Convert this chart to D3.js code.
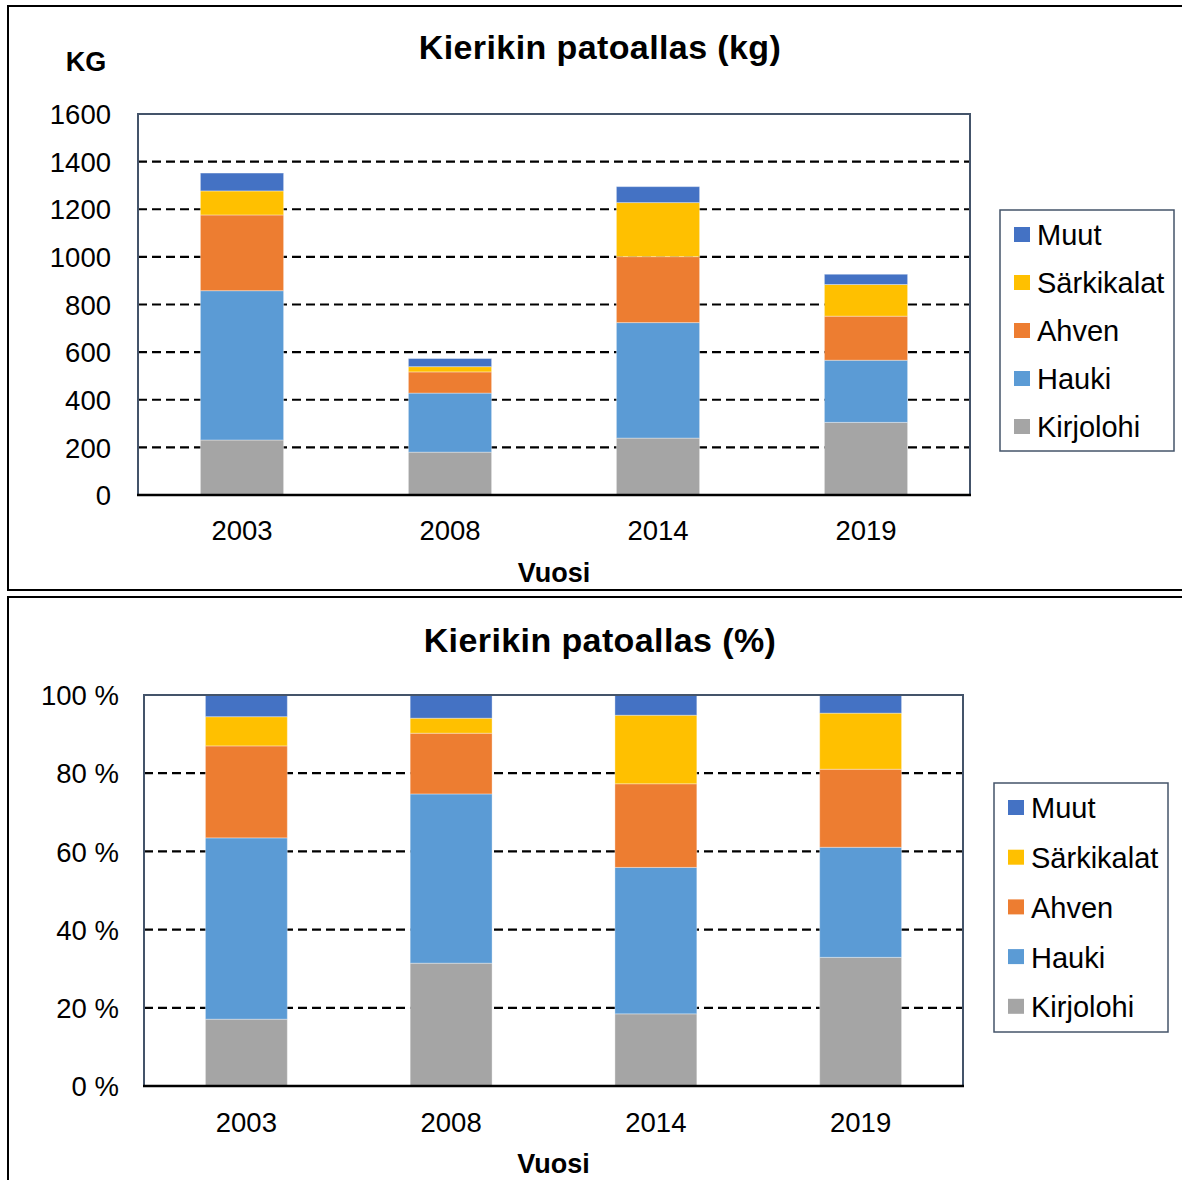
<!DOCTYPE html>
<html>
<head>
<meta charset="utf-8">
<script src="https://cdn.jsdelivr.net/npm/d3@7"></script>
<style>
  body { margin: 0; background: #fff; }
  text { font-family: "Liberation Sans", Arial, sans-serif; fill: #000; }
</style>
</head>
<body>
<div id="viz"></div>
<script>
// data (kg)
var years = ["2003", "2008", "2014", "2019"];
var species = ["Kirjolohi", "Hauki", "Ahven", "Särkikalat", "Muut"];
var kirjolohi = [231, 180, 239, 305];
var hauki = [627, 248, 485, 261];
var ahven = [318, 89, 277, 185];
var sarkikalat = [101, 22, 227, 133];
var muut = [75, 34, 67, 43];
var kgTicks = [0, 200, 400, 600, 800, 1000, 1200, 1400, 1600];
var pctTicks = [0, 0.2, 0.4, 0.6, 0.8, 1];

var color = {
  "Kirjolohi": "#a5a5a5",
  "Hauki": "#5b9bd5",
  "Ahven": "#ed7d31",
  "Särkikalat": "#ffc000",
  "Muut": "#4472c4"
};

var rows = years.map(function(y, i) {
  return {
    year: y,
    "Kirjolohi": kirjolohi[i],
    "Hauki": hauki[i],
    "Ahven": ahven[i],
    "Särkikalat": sarkikalat[i],
    "Muut": muut[i]
  };
});

var width = 1182, height = 1180;
var svg = d3.select("#viz").append("svg").attr("width", width).attr("height", height);

// outer frames
svg.append("rect").attr("x", 8).attr("y", 6).attr("width", 1190).attr("height", 584)
    .attr("fill", "none").attr("stroke", "#000").attr("stroke-width", 2);
svg.append("rect").attr("x", 8).attr("y", 597).attr("width", 1190).attr("height", 600)
    .attr("fill", "none").attr("stroke", "#000").attr("stroke-width", 2);

drawChart({
  x0: 138, x1: 970, y0: 114, y1: 495,
  title: "Kierikin patoallas (kg)", titleY: 59,
  domain: [0, 1600], ticks: kgTicks, fmt: function(d) { return d; },
  tickPad: 27, offset: d3.stackOffsetNone,
  xLabelDy: 45, vuosiY: 582,
  legend: { x: 1000, y: 210, w: 174, h: 241, first: 235, step: 48 },
  unit: true
});

drawChart({
  x0: 144, x1: 963, y0: 695, y1: 1086,
  title: "Kierikin patoallas (%)", titleY: 652,
  domain: [0, 1], ticks: pctTicks, fmt: function(d) { return Math.round(d * 100) + " %"; },
  tickPad: 25, offset: d3.stackOffsetExpand,
  xLabelDy: 46, vuosiY: 1173,
  legend: { x: 994, y: 783, w: 174, h: 249, first: 808, step: 49.7 },
  unit: false
});

function drawChart(o) {
  var x = d3.scaleBand().domain(years).range([o.x0, o.x1]).paddingInner(0.6).paddingOuter(0.3);
  var y = d3.scaleLinear().domain(o.domain).range([o.y1, o.y0]);

  var series = d3.stack().keys(species).offset(o.offset)(rows);

  var g = svg.append("g");

  // title
  g.append("text")
      .attr("x", 600).attr("y", o.titleY)
      .attr("text-anchor", "middle")
      .style("font-size", "34px").style("font-weight", "bold")
      .style("letter-spacing", "0.4px")
      .text(o.title);

  if (o.unit) {
    g.append("text").attr("x", 86).attr("y", 71).attr("text-anchor", "middle")
        .style("font-size", "27px").style("font-weight", "bold").text("KG");
  }

  // dashed gridlines
  g.selectAll(".grid")
    .data(o.ticks.filter(function(t) { return t > o.domain[0] && t < o.domain[1]; }))
    .enter().append("line")
      .attr("x1", o.x0).attr("x2", o.x1)
      .attr("y1", function(d) { return y(d); }).attr("y2", function(d) { return y(d); })
      .attr("stroke", "#000").attr("stroke-width", 2.2).attr("stroke-dasharray", "9,5");

  // bars
  g.selectAll(".layer")
    .data(series)
    .enter().append("g")
      .attr("fill", function(d) { return color[d.key]; })
    .selectAll("rect")
    .data(function(d) { return d; })
    .enter().append("rect")
      .attr("x", function(d) { return x(d.data.year); })
      .attr("width", x.bandwidth())
      .attr("y", function(d) { return y(d[1]); })
      .attr("height", function(d) { return y(d[0]) - y(d[1]); })
      .attr("stroke", "#fff").attr("stroke-opacity", 0.35).attr("stroke-width", 1);

  // plot border
  g.append("path")
      .attr("d", "M" + o.x0 + "," + o.y1 + "V" + o.y0 + "H" + o.x1 + "V" + o.y1)
      .attr("fill", "none").attr("stroke", "#44546a").attr("stroke-width", 2);
  g.append("line")
      .attr("x1", o.x0 - 1).attr("x2", o.x1 + 1).attr("y1", o.y1).attr("y2", o.y1)
      .attr("stroke", "#000").attr("stroke-width", 2.5);

  // y axis
  var ya = g.append("g")
      .attr("transform", "translate(" + o.x0 + ",0)")
      .call(d3.axisLeft(y).tickValues(o.ticks).tickSize(0).tickPadding(o.tickPad).tickFormat(o.fmt));
  ya.select(".domain").remove();
  ya.selectAll("text").style("font-size", "27.5px").attr("fill", "#000").attr("dy", "0.35em");

  // x axis
  var xa = g.append("g")
      .attr("transform", "translate(0," + o.y1 + ")")
      .call(d3.axisBottom(x).tickSize(0));
  xa.select(".domain").remove();
  xa.selectAll("text").style("font-size", "27.5px").attr("fill", "#000")
      .attr("y", o.xLabelDy).attr("dy", null);

  g.append("text")
      .attr("x", (o.x0 + o.x1) / 2).attr("y", o.vuosiY)
      .attr("text-anchor", "middle")
      .style("font-size", "27px").style("font-weight", "bold")
      .text("Vuosi");

  // legend
  var L = o.legend;
  g.append("rect").attr("x", L.x).attr("y", L.y).attr("width", L.w).attr("height", L.h)
      .attr("fill", "#fff").attr("stroke", "#44546a").attr("stroke-width", 1.5);
  var item = g.selectAll(".leg")
    .data(species.slice().reverse())
    .enter().append("g")
      .attr("transform", function(d, i) { return "translate(" + (L.x + 14) + "," + (L.first + i * L.step) + ")"; });
  item.append("rect").attr("x", 0).attr("y", -8).attr("width", 16).attr("height", 15)
      .attr("fill", function(d) { return color[d]; });
  item.append("text").attr("x", 23).attr("y", 0).attr("dy", "0.36em")
      .style("font-size", "29px").text(function(d) { return d; });
}
</script>
</body>
</html>
